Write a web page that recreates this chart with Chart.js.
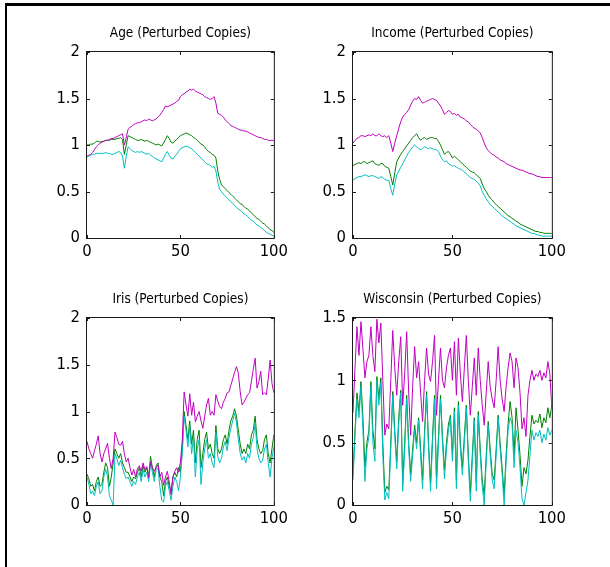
<!DOCTYPE html>
<html><head><meta charset="utf-8">
<script src="https://cdn.jsdelivr.net/npm/chart.js@4.4.1/dist/chart.umd.min.js"></script>
<style>
html,body{margin:0;padding:0;background:#fff;}
body{width:610px;height:567px;position:relative;overflow:hidden;}
#frameTop{position:absolute;left:5px;top:3px;width:605px;height:3px;background:#000;}
#frameLeft{position:absolute;left:5px;top:3px;width:2px;height:564px;background:#000;}
canvas{position:absolute;}
</style></head><body>
<div id="frameTop"></div><div id="frameLeft"></div>
<canvas id="cAge"></canvas><canvas id="cIncome"></canvas><canvas id="cIris"></canvas><canvas id="cWisc"></canvas>
<script>
// ---------- data ----------
const xValues = [0,1,2,3,4,5,6,7,8,9,10,11,12,13,14,15,16,17,18,19,20,21,22,23,24,25,26,27,28,29,30,31,32,33,34,35,36,37,38,39,40,41,42,43,44,45,46,47,48,49,50,51,52,53,54,55,56,57,58,59,60,61,62,63,64,65,66,67,68,69,70,71,72,73,74,75,76,77,78,79,80,81,82,83,84,85,86,87,88,89,90,91,92,93,94,95,96,97,98,99,100];
const xTicks = [0, 50, 100];
const yTicks = [0, 0.5, 1, 1.5, 2];
const yTicksWisc = [0, 0.5, 1, 1.5];
const titles = ["Age (Perturbed Copies)", "Income (Perturbed Copies)", "Iris (Perturbed Copies)", "Wisconsin (Perturbed Copies)"];

const ageMagenta = [0.88,0.89,0.9,0.92,0.95,0.98,1.0,1.02,1.03,1.04,1.05,1.05,1.06,1.07,1.07,1.08,1.09,1.1,1.11,1.12,1.0,1.08,1.17,1.19,1.2,1.22,1.23,1.24,1.24,1.25,1.26,1.27,1.26,1.28,1.27,1.26,1.27,1.28,1.3,1.32,1.35,1.38,1.42,1.41,1.42,1.43,1.44,1.45,1.47,1.48,1.52,1.54,1.55,1.57,1.58,1.6,1.59,1.6,1.58,1.57,1.56,1.55,1.54,1.52,1.51,1.5,1.49,1.5,1.52,1.45,1.34,1.33,1.32,1.3,1.27,1.25,1.23,1.21,1.2,1.19,1.18,1.17,1.16,1.16,1.15,1.15,1.14,1.13,1.12,1.11,1.1,1.09,1.08,1.08,1.07,1.06,1.06,1.05,1.05,1.05,1.05];
const ageGreen = [1.0,1.0,1.01,1.01,1.02,1.04,1.04,1.03,1.04,1.04,1.05,1.05,1.05,1.06,1.06,1.06,1.07,1.07,1.08,1.06,0.9,1.0,1.1,1.09,1.08,1.07,1.06,1.05,1.05,1.06,1.05,1.04,1.05,1.04,1.03,1.02,1.01,1.0,1.01,1.0,0.99,1.02,1.06,1.1,1.07,1.03,1.02,1.04,1.06,1.08,1.1,1.11,1.12,1.13,1.12,1.11,1.1,1.08,1.07,1.05,1.03,1.01,1.0,0.98,0.95,0.93,0.92,0.9,0.89,0.86,0.72,0.63,0.57,0.55,0.53,0.51,0.49,0.47,0.45,0.43,0.41,0.39,0.37,0.36,0.34,0.32,0.31,0.29,0.27,0.25,0.23,0.21,0.2,0.18,0.16,0.15,0.13,0.11,0.09,0.08,0.06];
const ageCyan = [0.87,0.88,0.89,0.9,0.9,0.91,0.91,0.91,0.91,0.91,0.92,0.91,0.91,0.9,0.9,0.91,0.92,0.93,0.92,0.88,0.75,0.88,0.98,0.96,0.94,0.93,0.92,0.93,0.92,0.93,0.92,0.91,0.9,0.91,0.89,0.88,0.86,0.85,0.84,0.83,0.82,0.86,0.9,0.93,0.89,0.86,0.85,0.88,0.9,0.93,0.96,0.97,0.98,0.99,0.98,0.97,0.96,0.94,0.92,0.9,0.88,0.86,0.84,0.82,0.8,0.79,0.78,0.76,0.77,0.72,0.6,0.52,0.5,0.47,0.45,0.43,0.41,0.39,0.37,0.35,0.33,0.31,0.3,0.28,0.26,0.25,0.23,0.21,0.19,0.18,0.16,0.14,0.13,0.11,0.1,0.08,0.06,0.05,0.04,0.03,0.02];

const incomeMagenta = [1.02,1.05,1.07,1.08,1.1,1.1,1.09,1.1,1.11,1.1,1.12,1.1,1.1,1.12,1.1,1.09,1.1,1.08,1.1,1.02,0.93,1.02,1.1,1.18,1.25,1.3,1.33,1.35,1.38,1.43,1.47,1.5,1.49,1.52,1.48,1.45,1.46,1.47,1.48,1.49,1.5,1.49,1.48,1.45,1.42,1.38,1.33,1.35,1.37,1.36,1.33,1.34,1.32,1.33,1.3,1.29,1.28,1.26,1.25,1.22,1.2,1.18,1.17,1.15,1.13,1.08,1.02,0.97,0.94,0.92,0.9,0.89,0.87,0.86,0.84,0.83,0.82,0.8,0.79,0.78,0.77,0.76,0.75,0.74,0.73,0.73,0.72,0.71,0.7,0.69,0.69,0.68,0.67,0.66,0.66,0.65,0.65,0.65,0.65,0.65,0.65];
const incomeGreen = [0.78,0.79,0.8,0.81,0.8,0.82,0.82,0.8,0.81,0.82,0.83,0.8,0.79,0.78,0.8,0.8,0.77,0.76,0.75,0.66,0.57,0.7,0.82,0.86,0.9,0.93,0.96,0.99,1.02,1.05,1.08,1.1,1.12,1.08,1.05,1.07,1.08,1.06,1.07,1.08,1.08,1.07,1.07,1.04,1.0,0.95,0.9,0.92,0.93,0.9,0.86,0.88,0.86,0.84,0.82,0.8,0.78,0.76,0.74,0.72,0.71,0.7,0.68,0.66,0.64,0.58,0.53,0.5,0.46,0.43,0.41,0.38,0.36,0.34,0.32,0.3,0.28,0.26,0.24,0.23,0.21,0.2,0.18,0.17,0.15,0.14,0.13,0.12,0.11,0.1,0.09,0.08,0.07,0.07,0.06,0.06,0.05,0.05,0.05,0.05,0.05];
const incomeCyan = [0.62,0.64,0.65,0.66,0.66,0.67,0.68,0.67,0.66,0.67,0.67,0.66,0.65,0.64,0.66,0.65,0.63,0.62,0.62,0.53,0.46,0.58,0.68,0.72,0.76,0.8,0.84,0.88,0.92,0.95,0.98,1.0,0.98,0.96,0.95,0.96,0.98,0.97,0.96,0.97,0.96,0.95,0.95,0.93,0.88,0.84,0.82,0.83,0.8,0.79,0.77,0.78,0.76,0.75,0.74,0.73,0.71,0.69,0.67,0.65,0.64,0.63,0.61,0.59,0.56,0.5,0.46,0.42,0.39,0.36,0.34,0.32,0.3,0.28,0.26,0.24,0.22,0.21,0.19,0.18,0.16,0.15,0.13,0.12,0.11,0.1,0.09,0.08,0.07,0.06,0.05,0.05,0.04,0.03,0.03,0.02,0.02,0.02,0.02,0.02,0.02];

const irisMagenta = [0.68,0.6,0.55,0.5,0.58,0.65,0.74,0.55,0.46,0.55,0.6,0.66,0.5,0.39,0.5,0.78,0.72,0.65,0.64,0.68,0.55,0.46,0.5,0.4,0.32,0.38,0.3,0.39,0.42,0.36,0.45,0.38,0.41,0.29,0.46,0.4,0.36,0.4,0.43,0.3,0.35,0.21,0.3,0.36,0.25,0.11,0.3,0.36,0.4,0.35,0.46,0.7,1.21,1.07,0.95,1.19,0.96,1.1,0.89,0.95,1.0,0.9,0.82,0.95,1.07,1.14,0.96,1.0,0.96,1.18,1.11,1.05,1.03,1.1,1.14,1.2,1.21,1.28,1.35,1.42,1.48,1.41,1.21,1.07,1.1,1.14,1.18,1.2,1.32,1.45,1.57,1.25,1.32,1.43,1.18,1.2,1.18,1.35,1.55,1.3,1.2];
const irisGreen = [0.33,0.28,0.2,0.22,0.15,0.25,0.3,0.2,0.22,0.35,0.45,0.4,0.2,0.3,0.45,0.6,0.55,0.5,0.55,0.45,0.4,0.35,0.35,0.3,0.25,0.3,0.28,0.35,0.4,0.3,0.42,0.35,0.4,0.3,0.52,0.4,0.3,0.42,0.45,0.3,0.25,0.1,0.25,0.3,0.2,0.15,0.3,0.35,0.3,0.4,0.35,0.6,1.0,0.85,0.7,0.9,0.65,0.8,0.45,0.7,0.8,0.4,0.55,0.7,0.78,0.6,0.65,0.55,0.5,0.85,0.6,0.55,0.6,0.7,0.75,0.65,0.8,0.9,0.95,1.03,0.95,0.8,0.65,0.55,0.6,0.55,0.65,0.6,0.75,0.8,0.95,0.7,0.6,0.55,0.58,0.7,0.75,0.55,0.45,0.6,0.75];
const irisCyan = [0.3,0.22,0.12,0.15,0.1,0.2,0.25,0.12,0.15,0.3,0.38,0.3,0.1,0.05,0.0,0.55,0.5,0.42,0.48,0.4,0.33,0.28,0.3,0.25,0.2,0.25,0.22,0.3,0.35,0.25,0.38,0.3,0.35,0.25,0.45,0.35,0.25,0.38,0.4,0.2,0.05,0.03,0.2,0.25,0.15,0.05,0.2,0.3,0.25,0.15,0.3,0.55,0.95,0.8,0.62,0.85,0.55,0.72,0.3,0.6,0.7,0.22,0.45,0.6,0.7,0.5,0.55,0.45,0.4,0.78,0.52,0.45,0.5,0.62,0.68,0.58,0.72,0.82,0.9,0.98,0.88,0.7,0.55,0.48,0.52,0.45,0.55,0.5,0.65,0.72,0.88,0.6,0.5,0.45,0.48,0.6,0.65,0.45,0.3,0.5,0.62];

const wiscMagenta = [0.74,1.1,1.43,1.2,1.47,1.25,1.02,1.15,1.2,1.43,1.2,1.07,1.49,1.3,1.46,1.0,0.56,0.65,0.61,1.0,1.4,1.1,0.88,1.15,1.35,0.8,1.05,1.39,0.9,0.56,0.95,1.27,1.02,1.15,0.9,0.67,1.0,1.26,1.05,0.99,1.15,1.36,0.72,1.0,1.26,1.0,0.94,1.1,1.2,1.26,1.0,1.31,0.88,1.34,1.05,0.83,1.1,1.36,1.0,0.72,0.95,1.18,0.88,1.26,1.0,0.8,0.64,0.9,1.15,0.95,0.85,0.78,1.0,1.27,1.0,0.85,0.75,0.95,1.1,1.22,1.15,0.94,1.18,1.1,0.9,0.61,0.7,0.55,0.88,1.0,1.08,1.0,1.05,1.03,1.08,1.0,1.06,1.02,1.15,1.05,0.78];
const wiscGreen = [0.25,0.6,0.9,0.75,0.99,0.7,0.3,0.5,0.6,0.99,0.6,0.45,1.03,0.85,1.02,0.5,0.1,0.15,0.12,0.5,0.91,0.6,0.35,0.7,0.92,0.18,0.5,0.88,0.5,0.25,0.45,0.64,0.5,0.7,0.45,0.2,0.6,0.91,0.5,0.18,0.55,0.88,0.22,0.55,0.88,0.55,0.28,0.5,0.65,0.72,0.4,0.78,0.2,0.83,0.5,0.3,0.55,0.8,0.4,0.1,0.4,0.7,0.18,0.75,0.45,0.2,0.08,0.4,0.67,0.45,0.25,0.2,0.45,0.72,0.5,0.3,0.08,0.4,0.65,0.83,0.7,0.4,0.78,0.6,0.4,0.15,0.3,0.25,0.36,0.55,0.72,0.65,0.68,0.66,0.73,0.62,0.7,0.66,0.78,0.7,0.8];
const wiscCyan = [0.2,0.55,0.85,0.7,0.95,0.6,0.19,0.45,0.55,0.95,0.5,0.35,1.0,0.8,0.98,0.4,0.04,0.1,0.05,0.45,0.88,0.55,0.29,0.65,0.9,0.11,0.45,0.85,0.45,0.19,0.4,0.6,0.45,0.68,0.4,0.13,0.55,0.88,0.45,0.11,0.5,0.85,0.13,0.5,0.85,0.5,0.21,0.45,0.6,0.7,0.35,0.75,0.13,0.8,0.45,0.24,0.5,0.78,0.35,0.03,0.35,0.68,0.11,0.72,0.4,0.15,0.0,0.35,0.64,0.4,0.2,0.13,0.4,0.7,0.45,0.25,0.0,0.35,0.6,0.7,0.65,0.3,0.6,0.5,0.3,0.05,0.0,0.1,0.2,0.4,0.6,0.52,0.58,0.55,0.6,0.5,0.57,0.52,0.62,0.56,0.6];

// ---------- styling ----------
const COLORS = { magenta: '#bf00bf', green: '#008000', cyan: '#00bfbf' };
const FONT = "'Liberation Sans Narrow', 'DejaVu Sans Condensed', 'Liberation Sans', sans-serif";
const TITLE_SIZE = 13.5;
const TICK_SIZE = 16.5;
const M = { left: 50, right: 12, top: 40, bottom: 34 };

const boxPlugin = {
  id: 'matlabBox',
  afterDatasetsDraw(chart) {
    const { ctx, chartArea: a, scales: { x, y } } = chart;
    ctx.save();
    ctx.strokeStyle = '#1a1a1a';
    ctx.lineWidth = 1;
    ctx.strokeRect(a.left - 0.5, a.top - 0.5, a.right - a.left + 1, a.bottom - a.top + 1);
    ctx.beginPath();
    x.ticks.forEach(t => {
      const px = Math.round(x.getPixelForValue(t.value)) + 0.5;
      ctx.moveTo(px, a.bottom); ctx.lineTo(px, a.bottom - 3);
      ctx.moveTo(px, a.top); ctx.lineTo(px, a.top + 3);
    });
    y.ticks.forEach(t => {
      const py = Math.round(y.getPixelForValue(t.value)) + 0.5;
      ctx.moveTo(a.left, py); ctx.lineTo(a.left + 3, py);
      ctx.moveTo(a.right, py); ctx.lineTo(a.right - 3, py);
    });
    ctx.stroke();
    ctx.restore();
  }
};

function toPoints(arr) { return xValues.map((x, i) => ({ x: x, y: arr[i] })); }

function makeChart(id, plot, title, series, yMax, yTickList) {
  const cv = document.getElementById(id);
  const w = plot.right - plot.left + M.left + M.right;
  const h = plot.bottom - plot.top + M.top + M.bottom;
  cv.width = w; cv.height = h;
  cv.style.width = w + 'px'; cv.style.height = h + 'px';
  cv.style.left = (plot.left - M.left) + 'px';
  cv.style.top = (plot.top - M.top) + 'px';
  const tPad = (M.top - TITLE_SIZE * 1.2) / 2;
  return new Chart(cv, {
    type: 'line',
    data: {
      datasets: series.map(s => ({
        data: toPoints(s.values),
        borderColor: s.color,
        borderWidth: 1,
        pointRadius: 0,
        tension: 0,
        fill: false
      }))
    },
    options: {
      responsive: false,
      animation: false,
      devicePixelRatio: 1,
      events: [],
      layout: { padding: { left: 0, right: M.right, top: 0, bottom: 0 } },
      plugins: {
        legend: { display: false },
        tooltip: { enabled: false },
        title: {
          display: true, text: title, fullSize: false, color: '#000',
          font: { family: FONT, size: TITLE_SIZE, weight: 'normal', lineHeight: 1.2 },
          padding: { top: tPad + 1, bottom: tPad - 1 }
        }
      },
      scales: {
        x: {
          type: 'linear', min: 0, max: 100,
          afterBuildTicks: s => { s.ticks = xTicks.map(v => ({ value: v })); },
          afterFit: s => { s.height = M.bottom; },
          grid: { display: false, drawTicks: false },
          border: { display: false },
          ticks: { color: '#000', font: { family: FONT, size: TICK_SIZE }, padding: 4, maxRotation: 0, autoSkip: false,
                   callback: v => String(v) }
        },
        y: {
          type: 'linear', min: 0, max: yMax,
          afterBuildTicks: s => { s.ticks = yTickList.map(v => ({ value: v })); },
          afterFit: s => { s.width = M.left; },
          grid: { display: false, drawTicks: false },
          border: { display: false },
          ticks: { color: '#000', font: { family: FONT, size: TICK_SIZE }, padding: 7,
                   callback: v => String(v) }
        }
      }
    },
    plugins: [boxPlugin]
  });
}

// dataset 0 is drawn on top: magenta over cyan over green
function trio(m, g, c) {
  return [
    { values: m, color: COLORS.magenta },
    { values: c, color: COLORS.cyan },
    { values: g, color: COLORS.green }
  ];
}

makeChart('cAge',    { left: 87,  top: 52,  right: 280, bottom: 238 }, titles[0], trio(ageMagenta, ageGreen, ageCyan), 2, yTicks);
makeChart('cIncome', { left: 353, top: 52,  right: 558, bottom: 238 }, titles[1], trio(incomeMagenta, incomeGreen, incomeCyan), 2, yTicks);
makeChart('cIris',   { left: 87,  top: 318, right: 280, bottom: 505 }, titles[2], trio(irisMagenta, irisGreen, irisCyan), 2, yTicks);
makeChart('cWisc',   { left: 353, top: 318, right: 558, bottom: 505 }, titles[3], trio(wiscMagenta, wiscGreen, wiscCyan), 1.5, yTicksWisc);
</script>
</body></html>
